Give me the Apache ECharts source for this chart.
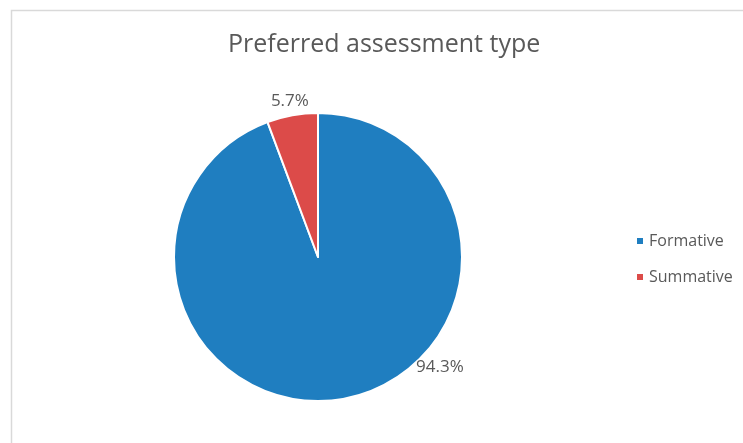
<!DOCTYPE html>
<html>
<head>
<meta charset="utf-8">
<script src="https://cdn.jsdelivr.net/npm/echarts@6/dist/echarts.min.js"></script>
<style>html,body{margin:0;padding:0;background:#fff;}#c{width:743px;height:443px;}</style>
</head>
<body>
<div id="c"></div>
<script>
var categories = ['Formative', 'Summative'];
var values = [94.3, 5.7];
var colors = ['#1f7ec0', '#dc4b49'];
var titleText = 'Preferred assessment type';

var chart = echarts.init(document.getElementById('c'), null, {renderer: 'canvas'});
var CX = 318, CY = 257, R = 144;
var total = values.reduce(function(a, b){ return a + b; }, 0);
function midAngle(i){
  var s = 0; for (var k = 0; k < i; k++) s += values[k];
  return (s + values[i] / 2) / total * 360;
}
var labelAngles = [132, midAngle(1)];
var labelRadii = [164, 158];

chart.setOption({
  animation: false,
  backgroundColor: '#fff',
  graphic: [{
    type: 'rect', silent: true,
    shape: {x: 11.5, y: 10.5, width: 800, height: 500},
    style: {fill: 'none', stroke: '#d9d9d9', lineWidth: 1.5}
  }],
  title: {
    text: titleText, left: 223, top: 27,
    textStyle: {fontFamily: 'Open Sans', fontSize: 25, fontWeight: 'normal', color: '#595959'}
  },
  legend: {
    orient: 'vertical', left: 630, top: 228,
    icon: 'rect', itemWidth: 8, itemHeight: 8, itemGap: 20,
    data: categories,
    textStyle: {fontFamily: 'Open Sans', fontSize: 16, color: '#595959'}
  },
  series: [{
    type: 'pie',
    center: [CX, CY], radius: R,
    startAngle: 90, clockwise: true,
    color: colors,
    itemStyle: {borderColor: '#fff', borderWidth: 2},
    emphasis: {disabled: true},
    label: {
      show: true, position: 'outside',
      formatter: function(p){ return p.value.toFixed(1) + '%'; },
      fontFamily: 'Open Sans', fontSize: 17, color: '#595959'
    },
    labelLine: {show: false, length: 5, length2: 0},
    labelLayout: function(p){
      var a = labelAngles[p.dataIndex] * Math.PI / 180;
      var r = labelRadii[p.dataIndex];
      return {x: CX + r * Math.sin(a), y: CY - r * Math.cos(a), align: 'center', verticalAlign: 'middle'};
    },
    data: categories.map(function(c, i){ return {name: c, value: values[i]}; })
  }]
});
</script>
</body>
</html>
